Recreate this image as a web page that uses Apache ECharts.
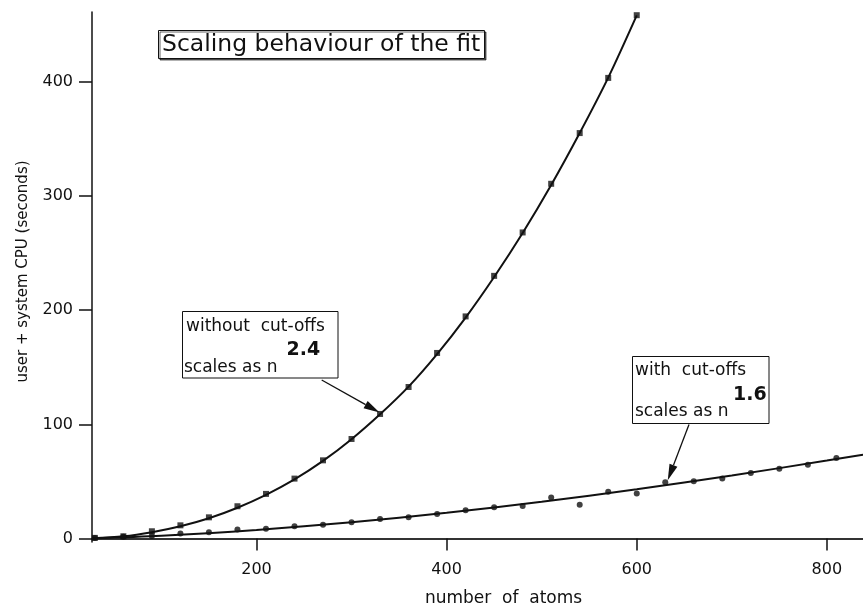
<!DOCTYPE html>
<html>
<head>
<meta charset="utf-8">
<script src="https://cdn.jsdelivr.net/npm/echarts@6/dist/echarts.min.js"></script>
<style>
html,body{margin:0;padding:0;background:#fff;}
#chart{width:863px;height:603px;}
</style>
</head>
<body>
<div id="chart"></div>
<script>
// ---- data ----
const atomsNoCut = [30,60,90,120,150,180,210,240,270,300,330,360,390,420,450,480,510,540,570,600];
const cpuNoCut = [0.6,2.0,6.4,11.6,18.6,28.3,39.1,52.5,68.5,87.2,109.1,132.7,162.5,194.5,230,268,310.6,355,403.3,458.2];

const atomsCut = [30,60,90,120,150,180,210,240,270,300,330,360,390,420,450,480,510,540,570,600,630,660,690,720,750,780,810];
const cpuCut = [0.6,1.5,2.3,4.4,5.5,7.9,8.7,10.8,12.2,14.3,17.2,18.6,21.6,24.8,27.4,28.6,35.9,29.7,40.9,39.4,49.3,50.1,52.5,57.5,61.2,64.7,70.6];

// fitted curves
const fitAtomsNoCut = [27,60,90,120,150,180,210,240,270,300,330,360,390,420,450,480,510,540,570,600];
const fitCpuNoCut = [0.3,2.0,5.6,10.8,17.8,27,38.3,51.8,68,87,108.8,133,161.5,193.5,229,267.5,309.5,355,403.5,458];
const fitAtomsCut = [27,100,200,300,400,500,600,700,800,838];
const fitCpuCut = [0.3,2.5,7.6,14.3,22.6,32.2,43.1,55.2,68.3,73.5];

const xTicks = [200,400,600,800];
const yTicks = [0,100,200,300,400];

const titleText = 'Scaling behaviour of the fit';
const noteNoCut = ['without  cut-offs', 'scales as n', '2.4'];
const noteCut = ['with  cut-offs', 'scales as n', '1.6'];

const zip = (a, b) => a.map((v, i) => [v, b[i]]);
const FONT = '"DejaVu Sans", "Liberation Sans", Arial, sans-serif';
const INK = '#111';

const chart = echarts.init(document.getElementById('chart'), null, {renderer: 'canvas'});

const option = {
  animation: false,
  backgroundColor: '#fff',
  textStyle: {fontFamily: FONT, color: INK},
  grid: {left: 92, right: 0, top: 12, bottom: 61, containLabel: false, outerBoundsMode: 'none'},
  title: {
    text: titleText,
    left: 158, top: 30,
    padding: [1, 4, 1, 4],
    borderColor: INK, borderWidth: 1,
    shadowColor: 'rgba(0,0,0,0.6)', shadowOffsetX: 1.5, shadowOffsetY: 1.5, shadowBlur: 0,
    backgroundColor: '#fff',
    textStyle: {fontFamily: FONT, fontSize: 23.5, fontWeight: 'normal', color: INK, lineHeight: 27}
  },
  xAxis: {
    type: 'value', min: 27, max: 838,
    name: 'number  of  atoms', nameLocation: 'middle', nameGap: 48,
    nameTextStyle: {fontFamily: FONT, fontSize: 17, color: INK, padding: [0, 0, 0, 52]},
    axisLine: {show: true, lineStyle: {color: '#333', width: 2}},
    axisTick: {show: true, length: 12, customValues: xTicks, lineStyle: {color: INK, width: 1.5}},
    axisLabel: {customValues: xTicks, fontFamily: FONT, fontSize: 16, color: INK, margin: 20},
    splitLine: {show: false}
  },
  yAxis: {
    type: 'value', min: -3, max: 461,
    name: 'user + system CPU (seconds)', nameLocation: 'middle', nameGap: 61, nameRotate: 90,
    nameTextStyle: {fontFamily: FONT, fontSize: 15, color: INK, padding: [0, 0, 0, 11]},
    axisLine: {show: true, lineStyle: {color: INK, width: 1.5}},
    axisTick: {show: true, length: 13, customValues: yTicks, lineStyle: {color: INK, width: 1.5}},
    axisLabel: {customValues: yTicks, fontFamily: FONT, fontSize: 16, color: INK, margin: 19},
    splitLine: {show: false}
  },
  series: [
    {
      name: 'fit without cut-offs', type: 'line', data: zip(fitAtomsNoCut, fitCpuNoCut),
      smooth: 0.3, showSymbol: false, symbol: 'none',
      lineStyle: {color: INK, width: 2}, z: 2
    },
    {
      name: 'fit with cut-offs', type: 'line', data: zip(fitAtomsCut, fitCpuCut),
      smooth: 0.3, showSymbol: false, symbol: 'none',
      lineStyle: {color: INK, width: 2}, z: 2
    },
    {
      name: 'without cut-offs', type: 'scatter', data: zip(atomsNoCut, cpuNoCut),
      symbol: 'rect', symbolSize: 6, itemStyle: {color: INK}, z: 3
    },
    {
      name: 'with cut-offs', type: 'scatter', data: zip(atomsCut, cpuCut),
      symbol: 'circle', symbolSize: 6, itemStyle: {color: INK}, z: 3
    }
  ]
};
chart.setOption(option);

function arrow(from, to, headLen, headHalf) {
  const dx = to[0] - from[0], dy = to[1] - from[1];
  const L = Math.hypot(dx, dy), ux = dx / L, uy = dy / L;
  const bx = to[0] - ux * headLen, by = to[1] - uy * headLen;
  return [
    {type: 'line', shape: {x1: from[0], y1: from[1], x2: bx, y2: by}, style: {stroke: INK, lineWidth: 1.3}, z: 20},
    {type: 'polygon', shape: {points: [to, [bx - uy * headHalf, by + ux * headHalf], [bx + uy * headHalf, by - ux * headHalf]]},
     style: {fill: INK}, z: 20}
  ];
}

function note(box, lines, pos) {
  const els = [];
  els.push({type: 'rect', shape: {x: box[0], y: box[1], width: box[2], height: box[3]},
            style: {fill: '#fff', stroke: INK, lineWidth: 1}, z: 19});
  els.push({type: 'text', x: pos.l1[0], y: pos.l1[1],
            style: {text: lines[0], fontFamily: FONT, fontSize: 17, fill: INK, verticalAlign: 'middle', lineHeight: 17}, z: 21});
  els.push({type: 'text', x: pos.l2[0], y: pos.l2[1],
            style: {text: lines[1], fontFamily: FONT, fontSize: 17, fill: INK, verticalAlign: 'middle', lineHeight: 17}, z: 21});
  els.push({type: 'text', x: pos.ex[0], y: pos.ex[1],
            style: {text: lines[2], fontFamily: FONT, fontSize: 19, fontWeight: 'bold', fill: INK, verticalAlign: 'middle', lineHeight: 19}, z: 21});
  return els;
}

const tip1 = chart.convertToPixel({gridIndex: 0}, [atomsNoCut[10], cpuNoCut[10]]);
const tip2 = chart.convertToPixel({gridIndex: 0}, [atomsCut[20], cpuCut[20]]);

const graphics = [].concat(
  note([182.5, 311.5, 155.5, 66.5], noteNoCut, {l1: [186, 326.5], l2: [184, 367.5], ex: [286.5, 350]}),
  arrow([321.7, 380], [tip1[0] - 0.5, tip1[1] - 1.5], 16, 4.2),
  note([632.5, 356.5, 136.5, 67], noteCut, {l1: [635, 371], l2: [635, 412], ex: [733, 395.5]}),
  arrow([689, 424.5], [tip2[0] + 2.5, tip2[1] - 2], 16, 4.2)
);
chart.setOption({graphic: graphics});
</script>
</body>
</html>
